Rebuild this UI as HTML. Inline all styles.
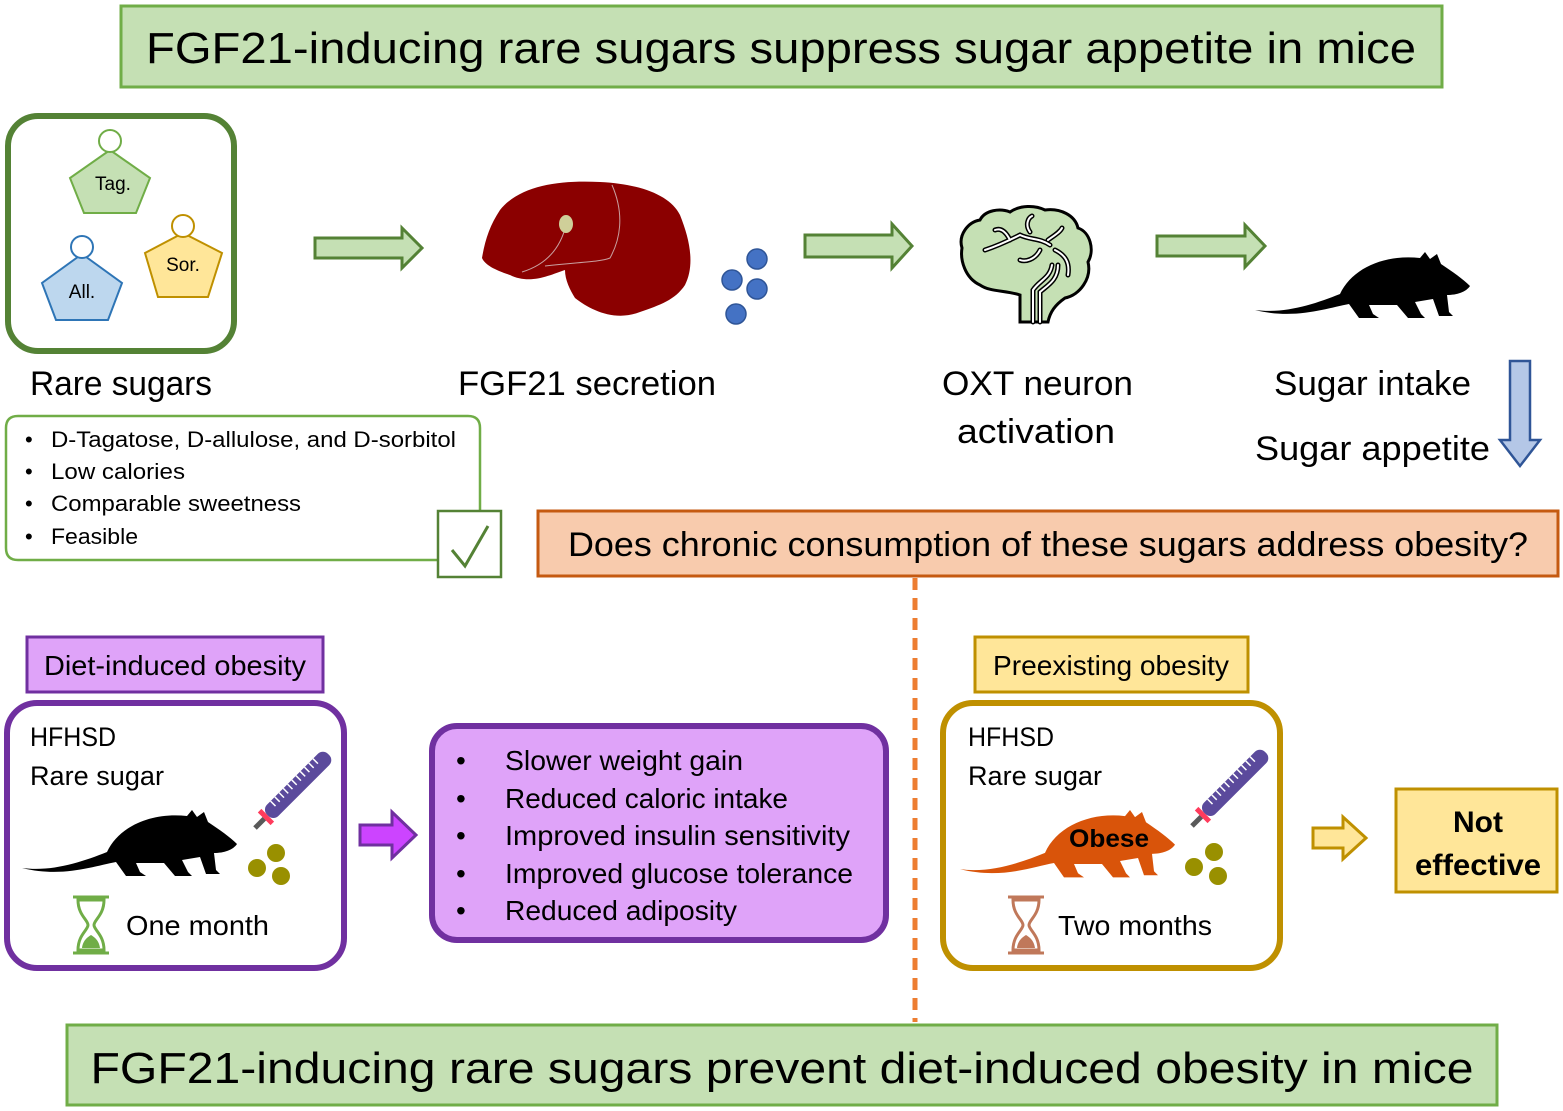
<!DOCTYPE html>
<html><head><meta charset="utf-8"><style>
html,body{margin:0;padding:0;background:#fff}
svg{display:block}
text{font-family:"Liberation Sans",sans-serif;fill:#000}
</style></head><body>
<svg width="1563" height="1111" viewBox="0 0 1563 1111" xmlns="http://www.w3.org/2000/svg">
<defs>
<path id="mouse" d="M0,58 C30,62 60,52 85,42 C97,16 130,2 165,6 L170,0 L175,7 L182,2 L186,12 C198,20 208,27 215,34 C211,40 202,43 192,43 L194,60 L198,64 L184,64 L178,47 L160,50 L166,62 L170,66 L153,66 L142,53 L114,53 L118,62 L124,66 L104,66 L94,52 C72,56 40,68 0,58 Z"/>
<g id="syr">
<line x1="0" y1="0" x2="14" y2="0" stroke="#595959" stroke-width="5"/>
<rect x="13" y="-9" width="5" height="18" fill="#ff3b5c"/>
<rect x="18" y="-8" width="86" height="16" rx="7" fill="#5b4a9c"/>
<path d="M30,-8v7M36,-8v7M42,-8v7M48,-8v7M54,-8v7M60,-8v7M66,-8v7M72,-8v7M78,-8v7M84,-8v7M90,-8v7" stroke="#fff" stroke-width="1.5"/>
</g>
</defs>

<!-- title -->
<rect x="121" y="6" width="1321" height="81" fill="#c5e0b4" stroke="#70ad47" stroke-width="3"/>
<text x="781" y="63" font-size="44" text-anchor="middle" textLength="1270" lengthAdjust="spacingAndGlyphs">FGF21-inducing rare sugars suppress sugar appetite in mice</text>

<!-- rare sugars box -->
<rect x="8" y="116" width="226" height="235" rx="30" fill="#fff" stroke="#548235" stroke-width="6"/>
<polygon points="110,150 150,178 136,213 84,213 70,178" fill="#c5e0b4" stroke="#70ad47" stroke-width="2"/>
<circle cx="110" cy="141" r="11" fill="#fff" stroke="#70ad47" stroke-width="2"/>
<text x="113" y="190" font-size="19" text-anchor="middle">Tag.</text>
<polygon points="82,254 122,283 108,320 56,320 42,283" fill="#bdd7ee" stroke="#2e75b6" stroke-width="2"/>
<circle cx="82" cy="247" r="11" fill="#fff" stroke="#2e75b6" stroke-width="2"/>
<text x="82" y="298" font-size="19" text-anchor="middle">All.</text>
<polygon points="183,233 222,253 208,297 158,297 145,253" fill="#ffe699" stroke="#bf9000" stroke-width="2"/>
<circle cx="183" cy="226" r="11" fill="#fff" stroke="#bf9000" stroke-width="2"/>
<text x="183" y="271" font-size="19" text-anchor="middle">Sor.</text>

<!-- arrows top -->
<polygon points="315,238 402,238 402,228 422,248 402,268 402,258 315,258" fill="#c5e0b4" stroke="#548235" stroke-width="3"/>
<polygon points="805,235 892,235 892,224 912,246 892,268 892,257 805,257" fill="#c5e0b4" stroke="#548235" stroke-width="3"/>
<polygon points="1157,236 1245,236 1245,225 1265,246 1245,267 1245,256 1157,256" fill="#c5e0b4" stroke="#548235" stroke-width="3"/>

<!-- liver -->
<path d="M500,210 C520,185 560,180 600,182 C640,184 670,195 680,215 C690,240 695,265 685,285 C675,300 660,305 640,312 C615,322 590,310 575,298 C570,290 565,280 565,270 C550,275 530,285 510,275 C495,270 485,265 482,258 C485,240 490,225 500,210 Z" fill="#8b0000"/>
<path d="M566,225 C560,250 545,265 522,272 M545,266 C580,262 600,262 610,258 C620,240 625,215 612,185" fill="none" stroke="#c9a0a0" stroke-width="1"/>
<ellipse cx="566" cy="224" rx="7" ry="9" fill="#cfcf99"/>
<g fill="#4472c4" stroke="#2f5597" stroke-width="1.5">
<circle cx="757" cy="259" r="10"/><circle cx="732" cy="280" r="10"/><circle cx="757" cy="289" r="10"/><circle cx="736" cy="314" r="10"/>
</g>

<!-- brain -->
<path d="M1020,322 L1020,295 C1005,290 990,292 980,285 C965,278 960,260 962,248 C958,235 968,222 980,220 C985,210 1000,208 1010,212 C1020,205 1035,205 1045,210 C1060,208 1075,215 1078,228 C1090,232 1095,250 1088,262 C1092,278 1080,295 1065,298 C1055,305 1050,312 1048,322 Z" fill="#c5e0b4" stroke="#000" stroke-width="3"/>
<path d="M1033,322 L1033,290 C1040,280 1050,278 1052,265 M1040,322 L1040,292 C1048,285 1058,280 1058,265 M985,250 C1000,245 1010,240 1020,235 C1030,240 1040,238 1050,245 M1010,240 C1005,230 1000,228 995,230 M1030,232 C1025,225 1028,218 1032,216 M1048,240 C1055,235 1060,232 1062,228 M1040,250 C1035,260 1025,262 1020,260 M1055,250 C1065,255 1070,262 1068,275" fill="none" stroke="#000" stroke-width="5" stroke-linecap="round"/>
<path d="M1033,322 L1033,290 C1040,280 1050,278 1052,265 M1040,322 L1040,292 C1048,285 1058,280 1058,265 M985,250 C1000,245 1010,240 1020,235 C1030,240 1040,238 1050,245 M1010,240 C1005,230 1000,228 995,230 M1030,232 C1025,225 1028,218 1032,216 M1048,240 C1055,235 1060,232 1062,228 M1040,250 C1035,260 1025,262 1020,260 M1055,250 C1065,255 1070,262 1068,275" fill="none" stroke="#fff" stroke-width="2" stroke-linecap="round"/>

<!-- top mouse -->
<use href="#mouse" transform="translate(1255,252)" fill="#000"/>

<!-- labels -->
<text x="30" y="395" font-size="34" textLength="182" lengthAdjust="spacingAndGlyphs">Rare sugars</text>
<text x="458" y="395" font-size="34" textLength="258" lengthAdjust="spacingAndGlyphs">FGF21 secretion</text>
<text x="942" y="395" font-size="34" textLength="191" lengthAdjust="spacingAndGlyphs">OXT neuron</text>
<text x="957" y="443" font-size="34" textLength="158" lengthAdjust="spacingAndGlyphs">activation</text>
<text x="1274" y="395" font-size="34" textLength="197" lengthAdjust="spacingAndGlyphs">Sugar intake</text>
<text x="1255" y="460" font-size="34" textLength="235" lengthAdjust="spacingAndGlyphs">Sugar appetite</text>
<polygon points="1510,361 1530,361 1530,440 1540,440 1520,466 1500,440 1510,440" fill="#b4c7e7" stroke="#2f5597" stroke-width="2.5"/>

<!-- bullets box -->
<path d="M480,510 L480,428 Q480,416 468,416 L18,416 Q6,416 6,428 L6,548 Q6,560 18,560 L438,560" fill="#fff" stroke="#70ad47" stroke-width="2.5"/>
<g font-size="22">
<text x="25" y="447">•</text><text x="51" y="447" textLength="405" lengthAdjust="spacingAndGlyphs">D-Tagatose, D-allulose, and D-sorbitol</text>
<text x="25" y="479">•</text><text x="51" y="479" textLength="134" lengthAdjust="spacingAndGlyphs">Low calories</text>
<text x="25" y="511">•</text><text x="51" y="511" textLength="250" lengthAdjust="spacingAndGlyphs">Comparable sweetness</text>
<text x="25" y="544">•</text><text x="51" y="544" textLength="87" lengthAdjust="spacingAndGlyphs">Feasible</text>
</g>
<rect x="438" y="511" width="63" height="66" fill="#fff" stroke="#548235" stroke-width="2.5"/>
<path d="M452,550 L465,566 L488,526" fill="none" stroke="#548235" stroke-width="3"/>

<!-- question -->
<rect x="538" y="511" width="1020" height="65" fill="#f8cbad" stroke="#c55a11" stroke-width="3"/>
<text x="1048" y="556" font-size="34" text-anchor="middle" textLength="960" lengthAdjust="spacingAndGlyphs">Does chronic consumption of these sugars address obesity?</text>
<line x1="915" y1="578" x2="915" y2="1022" stroke="#ed7d31" stroke-width="5" stroke-dasharray="12,8"/>

<!-- diet-induced -->
<rect x="27" y="637" width="296" height="55" fill="#dfa3f9" stroke="#7030a0" stroke-width="3"/>
<text x="175" y="675" font-size="28" text-anchor="middle" textLength="262" lengthAdjust="spacingAndGlyphs">Diet-induced obesity</text>
<rect x="7" y="703" width="337" height="265" rx="30" fill="#fff" stroke="#7030a0" stroke-width="6"/>
<text x="30" y="746" font-size="27" textLength="86" lengthAdjust="spacingAndGlyphs">HFHSD</text>
<text x="30" y="785" font-size="27" textLength="134" lengthAdjust="spacingAndGlyphs">Rare sugar</text>
<use href="#mouse" transform="translate(22,810)" fill="#000"/>
<use href="#syr" transform="translate(255,828) rotate(-45)"/>
<g fill="#999000"><circle cx="276" cy="853" r="9"/><circle cx="257" cy="868" r="9"/><circle cx="281" cy="876" r="9"/></g>
<g transform="translate(73,895)" fill="none" stroke="#70ad47" stroke-width="3">
<line x1="0" y1="2" x2="36" y2="2"/><line x1="0" y1="58" x2="36" y2="58"/>
<path d="M5,5 C5,20 15,25 15,30 C15,35 5,40 5,55 L31,55 C31,40 21,35 21,30 C21,25 31,20 31,5 Z"/>
<path d="M9,53 C10,45 15,42 18,40 C21,42 26,45 27,53 Z" fill="#70ad47" stroke="none"/>
</g>
<text x="126" y="935" font-size="28" textLength="143" lengthAdjust="spacingAndGlyphs">One month</text>

<polygon points="360,825 392,825 392,812 416,835 392,858 392,845 360,845" fill="#cc44ff" stroke="#7030a0" stroke-width="3"/>

<rect x="432" y="726" width="454" height="214" rx="25" fill="#dfa3f9" stroke="#7030a0" stroke-width="6"/>
<g font-size="28">
<text x="456" y="770">•</text><text x="505" y="770" textLength="238" lengthAdjust="spacingAndGlyphs">Slower weight gain</text>
<text x="456" y="808">•</text><text x="505" y="808" textLength="283" lengthAdjust="spacingAndGlyphs">Reduced caloric intake</text>
<text x="456" y="845">•</text><text x="505" y="845" textLength="345" lengthAdjust="spacingAndGlyphs">Improved insulin sensitivity</text>
<text x="456" y="883">•</text><text x="505" y="883" textLength="348" lengthAdjust="spacingAndGlyphs">Improved glucose tolerance</text>
<text x="456" y="920">•</text><text x="505" y="920" textLength="232" lengthAdjust="spacingAndGlyphs">Reduced adiposity</text>
</g>

<!-- preexisting -->
<rect x="975" y="637" width="273" height="55" fill="#ffe699" stroke="#bf9000" stroke-width="3"/>
<text x="1111" y="675" font-size="28" text-anchor="middle" textLength="236" lengthAdjust="spacingAndGlyphs">Preexisting obesity</text>
<rect x="943" y="703" width="337" height="265" rx="30" fill="#fff" stroke="#bf9000" stroke-width="6"/>
<text x="968" y="746" font-size="27" textLength="86" lengthAdjust="spacingAndGlyphs">HFHSD</text>
<text x="968" y="785" font-size="27" textLength="134" lengthAdjust="spacingAndGlyphs">Rare sugar</text>
<use href="#mouse" transform="translate(960,810) scale(1,1.02)" fill="#d9540a"/>
<text x="1109" y="847" font-size="25" font-weight="bold" text-anchor="middle" textLength="80" lengthAdjust="spacingAndGlyphs">Obese</text>
<use href="#syr" transform="translate(1192,826) rotate(-45)"/>
<g fill="#999000"><circle cx="1214" cy="852" r="9"/><circle cx="1194" cy="867" r="9"/><circle cx="1218" cy="876" r="9"/></g>
<g transform="translate(1008,895)" fill="none" stroke="#c0785a" stroke-width="3">
<line x1="0" y1="2" x2="36" y2="2"/><line x1="0" y1="58" x2="36" y2="58"/>
<path d="M5,5 C5,20 15,25 15,30 C15,35 5,40 5,55 L31,55 C31,40 21,35 21,30 C21,25 31,20 31,5 Z"/>
<path d="M9,53 C10,45 15,42 18,40 C21,42 26,45 27,53 Z" fill="#c0785a" stroke="none"/>
</g>
<text x="1058" y="935" font-size="28" textLength="154" lengthAdjust="spacingAndGlyphs">Two months</text>

<polygon points="1313,828 1343,828 1343,817 1366,838 1343,859 1343,848 1313,848" fill="#ffe699" stroke="#bf9000" stroke-width="3"/>
<rect x="1396" y="789" width="161" height="103" fill="#ffe699" stroke="#bf9000" stroke-width="3"/>
<text x="1478" y="832" font-size="30" font-weight="bold" text-anchor="middle">Not</text>
<text x="1478" y="875" font-size="30" font-weight="bold" text-anchor="middle" textLength="126" lengthAdjust="spacingAndGlyphs">effective</text>

<!-- bottom -->
<rect x="67" y="1025" width="1430" height="80" fill="#c5e0b4" stroke="#70ad47" stroke-width="3"/>
<text x="782" y="1083" font-size="44" text-anchor="middle" textLength="1383" lengthAdjust="spacingAndGlyphs">FGF21-inducing rare sugars prevent diet-induced obesity in mice</text>
</svg>
</body></html>
